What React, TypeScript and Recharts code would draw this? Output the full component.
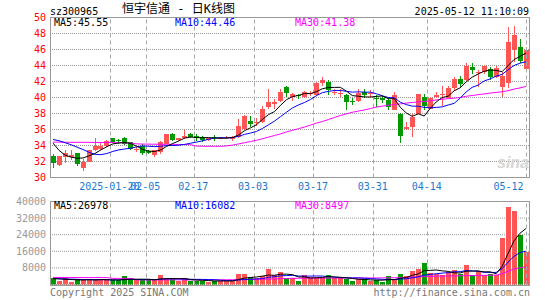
import React from "react";
import { ComposedChart, Bar, Line, XAxis, YAxis, CartesianGrid, ReferenceLine } from "recharts";

const MONO = "'DejaVu Sans Mono', monospace";
const RED = "#ff5555";
const GREEN = "#009900";
const GRID = "#a8a8a8";

// daily candles, 2025-01-06 .. 2025-05-12 (index 0..79)
const opens = [
  32.65, 31.55, 32.6, 32.6, 33.05, 31.25, 31.95, 33.4, 33.6, 33.9,
  34.9, 34.7, 35.0, 34.4, 33.45, 34.0, 33.3, 32.8, 33.2, 34.25,
  35.5, 34.7, 34.9, 35.4, 35.15, 35.1, 34.7, 35.0, 34.9, 34.9,
  34.85, 35.1, 36.1, 37.08, 36.9, 36.95, 38.85, 39.25, 39.6, 41.3,
  40.1, 40.3, 40.1, 40.45, 40.3, 41.85, 41.95, 40.65, 40.5, 40.3,
  39.55, 39.6, 40.65, 40.45, 39.95, 40.0, 39.75, 38.5, 38.0, 36.05,
  36.3, 38.0, 40.1, 38.6, 40.1, 40.35, 40.0, 41.15, 42.3, 42.2,
  43.85, 43.15, 43.2, 43.6, 42.6, 41.35, 41.75, 46.0, 46.3, 43.6,
];
const highs = [
  32.9, 32.7, 33.4, 33.5, 33.1, 32.3, 33.5, 34.9, 34.3, 34.7,
  35.0, 34.8, 35.05, 34.5, 33.8, 34.2, 33.4, 33.5, 34.6, 35.5,
  35.6, 35.0, 35.9, 35.6, 35.5, 35.2, 35.0, 35.3, 35.1, 35.15,
  35.2, 37.3, 37.8, 37.7, 37.5, 38.9, 41.0, 39.8, 41.05, 41.5,
  40.6, 40.5, 40.85, 40.85, 41.9, 42.6, 42.15, 41.1, 41.0, 40.4,
  40.0, 41.0, 41.0, 40.9, 40.3, 40.2, 39.9, 40.7, 38.1, 36.95,
  38.0, 40.5, 40.4, 40.1, 40.7, 41.5, 41.5, 42.6, 42.65, 44.25,
  44.25, 43.4, 44.05, 43.8, 44.0, 43.2, 48.8, 48.9, 47.25, 46.3,
];
const lows = [
  31.25, 31.45, 31.8, 32.2, 31.4, 30.8, 31.9, 33.3, 33.5, 33.8,
  34.3, 34.2, 34.1, 33.5, 33.2, 32.8, 32.9, 32.6, 33.0, 34.2,
  34.6, 34.6, 34.8, 34.9, 34.6, 34.4, 34.6, 34.6, 34.8, 34.85,
  34.6, 35.0, 35.9, 36.3, 36.5, 36.8, 38.6, 38.6, 39.5, 40.1,
  39.6, 39.75, 40.0, 40.2, 40.2, 41.5, 40.3, 40.3, 40.1, 38.4,
  39.05, 39.5, 40.0, 39.9, 38.85, 39.3, 38.4, 38.4, 34.3, 35.9,
  35.1, 37.9, 38.4, 38.5, 39.9, 39.0, 39.9, 40.8, 41.35, 42.1,
  43.0, 41.3, 43.0, 42.2, 42.4, 40.1, 41.2, 44.5, 44.3, 43.2,
];
const closes = [
  31.85, 32.65, 33.05, 32.8, 31.7, 32.0, 33.4, 33.9, 34.0, 34.6,
  34.5, 34.55, 34.25, 33.6, 33.55, 33.1, 33.05, 33.4, 34.45, 35.4,
  34.7, 34.9, 35.2, 35.1, 35.0, 34.7, 34.95, 34.9, 35.0, 35.05,
  35.08, 36.5, 37.65, 36.75, 37.0, 38.5, 39.45, 39.5, 40.65, 40.55,
  40.4, 40.2, 40.7, 40.55, 41.8, 42.25, 40.95, 40.75, 40.6, 39.45,
  39.45, 40.55, 40.3, 40.55, 39.85, 39.7, 38.85, 40.3, 35.2, 36.3,
  37.6, 40.4, 38.95, 39.9, 40.35, 40.4, 41.2, 42.35, 41.75, 44.0,
  43.4, 43.2, 44.0, 42.6, 43.7, 42.65, 46.95, 47.8, 44.6, 45.9,
];
const volumes = [
  2900, 1800, 2900, 1200, 2450, 2450, 2450, 2450, 2100, 2100,
  2100, 2100, 4000, 2450, 2100, 2100, 2100, 2450, 4500, 2900,
  2450, 1800, 2900, 1800, 1800, 1800, 1300, 1800, 1800, 1800,
  1800, 5000, 5000, 3400, 2900, 4000, 7400, 4500, 6100, 2900,
  2900, 1800, 4500, 3400, 3700, 3400, 4500, 2900, 2900, 2450,
  1800, 2600, 2450, 1800, 2100, 1300, 4000, 2450, 5000, 4000,
  6600, 7400, 10400, 5600, 5000, 4500, 6100, 6900, 5300, 9300,
  4800, 6300, 4800, 5300, 4720, 22600, 37300, 35300, 23700, 15800,
];

// moving-average lines
const ma5 = [
  34.3, 33.4, 32.8, 32.55, 32.41, 32.44, 32.7, 33.0, 33.45, 33.85,
  34.2, 34.31, 34.38, 34.25, 33.9, 33.5, 33.3, 33.25, 33.45, 33.9,
  34.25, 34.57, 34.93, 35.06, 34.98, 34.98, 34.99, 34.93, 34.91, 34.92,
  35.0, 35.31, 35.86, 36.21, 36.6, 37.28, 37.87, 38.24, 39.02, 39.73,
  40.11, 40.26, 40.5, 40.48, 40.73, 41.1, 41.25, 41.26, 41.27, 40.8,
  40.24, 40.16, 40.07, 40.06, 40.14, 40.19, 39.85, 39.85, 38.78, 38.07,
  37.65, 37.96, 37.69, 38.63, 39.44, 40.0, 40.16, 40.84, 41.21, 41.94,
  42.54, 42.94, 43.27, 43.44, 43.38, 43.23, 43.98, 44.74, 45.14, 45.55,
];
const ma10 = [
  34.75, 34.6, 34.35, 34.1, 33.8, 33.5, 33.15, 32.9, 32.85, 33.0,
  33.26, 33.45, 33.57, 33.65, 33.84, 33.95, 33.91, 33.86, 33.91, 33.99,
  34.0, 34.04, 34.14, 34.29, 34.43, 34.59, 34.78, 34.93, 34.99, 34.95,
  34.99, 35.15, 35.39, 35.56, 35.76, 36.14, 36.59, 37.05, 37.61, 38.16,
  38.7, 39.07, 39.37, 39.75, 40.23, 40.61, 40.76, 40.88, 40.88, 40.77,
  40.67, 40.71, 40.67, 40.67, 40.47, 40.22, 40.0, 39.96, 39.42, 39.11,
  38.92, 38.91, 38.77, 38.71, 38.76, 38.83, 39.06, 39.27, 39.92, 40.69,
  41.27, 41.55, 42.06, 42.33, 42.66, 42.89, 43.46, 44.0, 44.29, 44.46,
];
const ma30 = [
  34.42, 34.42, 34.41, 34.4, 34.4, 34.4, 34.39, 34.38, 34.38, 34.37,
  34.36, 34.35, 34.33, 34.3, 34.2, 34.18, 34.17, 34.16, 34.15, 34.15,
  34.14, 34.13, 34.12, 34.1, 33.92, 33.9, 33.9, 33.9, 33.9, 33.95,
  34.05, 34.2, 34.35, 34.5, 34.65, 34.85, 35.05, 35.25, 35.45, 35.7,
  35.9, 36.1, 36.3, 36.55, 36.8, 37.0, 37.25, 37.5, 37.75, 37.96,
  38.15, 38.3, 38.45, 38.62, 38.8, 38.92, 39.02, 39.12, 39.2, 39.3,
  39.38, 39.45, 39.5, 39.58, 39.7, 39.78, 39.85, 39.92, 40.0, 40.15,
  40.25, 40.35, 40.45, 40.55, 40.63, 40.72, 40.85, 41.05, 41.2, 41.38,
];
const volMa5 = [
  2800, 2700, 2500, 2400, 2250, 2160, 2290, 2200, 2380, 2310,
  2240, 2170, 2480, 2550, 2550, 2550, 2550, 2240, 2650, 2810,
  2880, 2820, 2910, 2370, 2150, 2020, 1920, 1700, 1700, 1700,
  1700, 2440, 3080, 3400, 3620, 4060, 4540, 4440, 4980, 4980,
  4760, 3640, 3640, 3100, 3260, 3360, 3900, 3580, 3480, 3230,
  2910, 2530, 2440, 2220, 2150, 2050, 2330, 2330, 2970, 3350,
  4410, 5090, 6680, 6800, 7000, 6580, 6320, 5620, 5560, 6420,
  6480, 6520, 6100, 6100, 5184, 8744, 14944, 21044, 24724, 26978,
];
const volMa10 = [
  2900, 2800, 2700, 2600, 2500, 2400, 2350, 2300, 2300, 2280,
  2200, 2230, 2340, 2465, 2430, 2395, 2360, 2360, 2600, 2680,
  2715, 2685, 2575, 2510, 2480, 2450, 2370, 2305, 2035, 1925,
  1860, 2180, 2390, 2550, 2660, 2880, 3490, 3760, 4190, 4300,
  4410, 4090, 4040, 4040, 4120, 4060, 3770, 3610, 3290, 3245,
  3135, 3215, 3010, 2850, 2690, 2480, 2430, 2385, 2595, 2750,
  3230, 3710, 4505, 4885, 5175, 5495, 5705, 6150, 6180, 6710,
  6530, 6420, 5860, 5830, 5800, 7612, 10732, 13572, 15412, 16082,
];
const volMa30 = [
  3400, 3400, 3380, 3380, 3360, 3360, 3350, 3350, 3340, 3330,
  2950, 2950, 2940, 2930, 2200, 2200, 2200, 2210, 2220, 2230,
  2240, 2250, 2250, 2250, 2250, 2250, 2260, 2270, 2280, 2290,
  2300, 2360, 2400, 2440, 2480, 2520, 2620, 2720, 2820, 2900,
  2970, 2990, 3010, 3040, 3070, 3090, 3110, 3130, 3140, 3150,
  3150, 3150, 3150, 3160, 3160, 3180, 3220, 3260, 3300, 3430,
  3550, 3680, 3800, 3900, 4000, 4050, 4100, 4150, 4200, 4240,
  4300, 4350, 4420, 4480, 4550, 5200, 6400, 7450, 8050, 8500,
];

const tickIdx = [10, 16, 24, 34, 44, 54, 63, 79];
const tickLabels = ["2025-01-20", "02-05", "02-17", "03-03", "03-17", "03-31", "04-14", "05-12"];
const priceTicks = [30, 32, 34, 36, 38, 40, 42, 44, 46, 48, 50];
const volTicks = [8000, 16000, 24000, 32000, 40000];

const data = closes.map((c, i) => ({
  i,
  o: opens[i],
  h: highs[i],
  l: lows[i],
  c,
  hl: [lows[i], highs[i]],
  v: volumes[i],
  ma5: ma5[i],
  ma10: ma10[i],
  ma30: ma30[i],
  vma5: volMa5[i],
  vma10: volMa10[i],
  vma30: volMa30[i],
}));

const Candle = (p: any) => {
  const { x, y, width, height, payload } = p;
  if (!payload) return null;
  const top = Math.min(y, y + height);
  const span = Math.abs(height);
  const toY = (v: number) => top + ((payload.h - v) / (payload.h - payload.l)) * span;
  const left = Math.round(x + width / 2 - 2.5);
  const color = payload.c >= payload.o ? RED : GREEN;
  const yo = toY(payload.o);
  const yc = toY(payload.c);
  const bt = Math.round(Math.min(yo, yc));
  const bb = Math.max(bt + 1, Math.round(Math.max(yo, yc)));
  const wt = Math.round(top);
  const wb = Math.round(top + span);
  return (
    <g shapeRendering="crispEdges">
      <rect x={left + 2} y={wt} width={1} height={Math.max(1, wb - wt)} fill={color} />
      <rect x={left} y={bt} width={5} height={bb - bt} fill={color} />
    </g>
  );
};

const VolBar = (p: any) => {
  const { x, y, width, height, payload } = p;
  if (!payload) return null;
  const left = Math.round(x + width / 2 - 2.5);
  const top = Math.round(y);
  const bottom = Math.round(y + height);
  return (
    <rect
      x={left}
      y={top}
      width={5}
      height={Math.max(1, bottom - top)}
      fill={payload.c >= payload.o ? RED : GREEN}
      shapeRendering="crispEdges"
    />
  );
};

const gridLine = (p: any) => {
  const x = Math.round(p.x1) + 0.5;
  return <line x1={x} x2={x} y1={p.y1} y2={p.y2} stroke={GRID} strokeDasharray="4 3" />;
};

const DateTick = (p: any) => {
  const idx = tickIdx.indexOf(p.payload.value);
  const last = idx === tickIdx.length - 1;
  return (
    <text
      x={last ? p.x - 2.5 : p.x - 3.5}
      y={190}
      textAnchor={last ? "end" : "middle"}
      fill="#1a7ad0"
      fontSize={10}
      fontFamily={MONO}
    >
      {tickLabels[idx]}
    </text>
  );
};

const Label = ({ left, top, right, color, children, size = 10, font = MONO }: any) => (
  <div
    style={{
      position: "absolute",
      left,
      right,
      top,
      color,
      fontSize: size,
      lineHeight: `${size}px`,
      fontFamily: font,
      whiteSpace: "pre",
    }}
  >
    {children}
  </div>
);

const vLines = () =>
  tickIdx.map((t, k) => (
    <ReferenceLine
      key={t}
      x={t}
      position={k === tickIdx.length - 1 ? "middle" : "start"}
      stroke={GRID}
      strokeDasharray="4 3"
      shape={gridLine}
    />
  ));

export default function App() {
  return (
    <div style={{ position: "absolute", left: 0, top: 0, width: 545, height: 300, background: "#fff", overflow: "hidden" }}>
      <div style={{ position: "absolute", left: 0, top: 0 }}>
        <ComposedChart width={545} height={198} data={data} margin={{ top: 17.5, right: 16, bottom: 0, left: 0 }}>
          <CartesianGrid vertical={false} stroke="#999" strokeDasharray="1 1" />
          <XAxis
            dataKey="i"
            ticks={tickIdx}
            interval={0}
            axisLine={false}
            tickLine={false}
            height={20.5}
            tick={<DateTick />}
          />
          <YAxis
            domain={[30, 50]}
            ticks={priceTicks}
            interval={0}
            width={50}
            axisLine={false}
            tickLine={false}
            tickSize={0}
            tickMargin={4}
            allowDataOverflow
            tick={{ fill: "#ff0000", fontSize: 10, fontFamily: MONO }}
          />
          {vLines()}
          <Bar dataKey="hl" shape={Candle} isAnimationActive={false} />
          <Line dataKey="ma30" stroke="#ff00ff" strokeWidth={1} dot={false} isAnimationActive={false} />
          <Line dataKey="ma10" stroke="#0000ff" strokeWidth={1} dot={false} isAnimationActive={false} />
          <Line dataKey="ma5" stroke="#000000" strokeWidth={1} dot={false} isAnimationActive={false} />
        </ComposedChart>
      </div>
      <div style={{ position: "absolute", left: 50, top: 17, width: 480, height: 161, border: "1px solid #999", boxSizing: "border-box", pointerEvents: "none" }} />

      <div style={{ position: "absolute", left: 0, top: 190 }}>
        <ComposedChart width={545} height={110} data={data} margin={{ top: 11.5, right: 16, bottom: 15.5, left: 0 }}>
          <CartesianGrid vertical={false} stroke="#999" strokeDasharray="1 1" />
          <XAxis dataKey="i" hide />
          <YAxis
            domain={[0, 40000]}
            ticks={volTicks}
            interval={0}
            width={50}
            axisLine={false}
            tickLine={false}
            tickSize={0}
            tickMargin={4}
            allowDataOverflow
            tick={{ fill: "#999999", fontSize: 10, fontFamily: MONO }}
          />
          {vLines()}
          <Bar dataKey="v" shape={VolBar} isAnimationActive={false} />
          <Line dataKey="vma30" stroke="#ff00ff" strokeWidth={1} dot={false} isAnimationActive={false} />
          <Line dataKey="vma10" stroke="#0000ff" strokeWidth={1} dot={false} isAnimationActive={false} />
          <Line dataKey="vma5" stroke="#000000" strokeWidth={1} dot={false} isAnimationActive={false} />
        </ComposedChart>
      </div>
      <div style={{ position: "absolute", left: 50, top: 201, width: 480, height: 85, border: "1px solid #999", boxSizing: "border-box", pointerEvents: "none" }} />

      <Label left={50} top={6.5} color="#000">sz300965</Label>
      <Label left={122} top={3} color="#000" size={12} font="'DejaVu Sans Mono', 'Noto Sans CJK SC'">
        恒宇信通 - 日K线图
      </Label>
      <Label right={16} top={6.5} color="#000">2025-05-12 11:10:09</Label>

      <Label left={54} top={18.2} color="#000">MA5:45.55</Label>
      <Label left={175} top={18.2} color="#0000ff">MA10:44.46</Label>
      <Label left={295} top={18.2} color="#ff00ff">MA30:41.38</Label>

      <Label left={54} top={200.8} color="#000">MA5:26978</Label>
      <Label left={175} top={200.8} color="#0000ff">MA10:16082</Label>
      <Label left={295} top={200.8} color="#ff00ff">MA30:8497</Label>

      <Label left={50} top={288} color="#777">Copyright 2025 SINA.COM</Label>
      <Label right={15} top={288} color="#777">http://finance.sina.com.cn</Label>

      <div
        style={{
          position: "absolute",
          left: 497,
          top: 155,
          color: "#d6d6d6",
          fontSize: 16,
          lineHeight: "16px",
          fontFamily: "'Liberation Sans', sans-serif",
          fontStyle: "italic",
          fontWeight: "bold",
        }}
      >
        sina
      </div>
    </div>
  );
}
